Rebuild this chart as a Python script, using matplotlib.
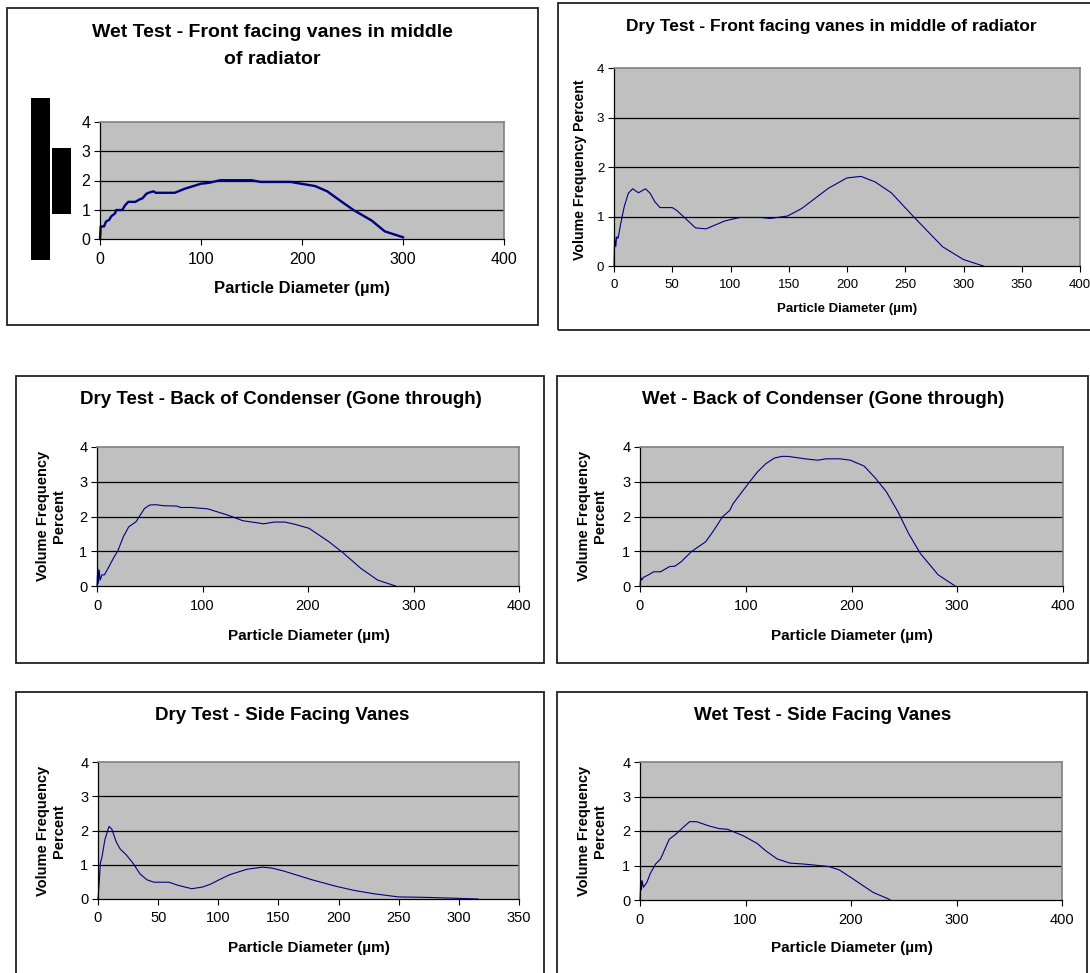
import matplotlib
matplotlib.use('Agg')
import matplotlib.pyplot as plt
from matplotlib.patches import Rectangle

W, H = 1090, 973

# values: particle diameter (um) vs volume frequency (%)
wet_front_x = [0, 0.7, 4, 6, 9, 11, 15, 16, 22, 25, 28, 35, 39, 42, 46, 49, 53, 55, 74, 84,
               100, 108, 119, 150, 159, 189, 199, 213, 225, 237, 251, 269, 282, 300]
wet_front_y = [0, 0.43, 0.43, 0.6, 0.65, 0.77, 0.88, 0.99, 0.99, 1.16, 1.27, 1.27, 1.35, 1.39,
               1.55, 1.59, 1.63, 1.58, 1.58, 1.72, 1.89, 1.92, 2.01, 2.01, 1.95, 1.95, 1.89,
               1.81, 1.63, 1.33, 0.99, 0.63, 0.26, 0.06]

dry_front_x = [0, 0.5, 1.5, 2.3, 3.5, 5.8, 8.8, 12.3, 16, 21, 27, 31, 35, 39.5, 50, 54, 70, 79,
               95, 108, 126, 134, 149, 161, 184, 200, 212, 224, 238, 257, 282, 300, 317]
dry_front_y = [0, 0.6, 0.39, 0.59, 0.56, 0.86, 1.2, 1.47, 1.56, 1.48, 1.56, 1.47, 1.3, 1.18,
               1.18, 1.12, 0.77, 0.75, 0.91, 0.98, 0.98, 0.96, 1.01, 1.16, 1.57, 1.78, 1.81,
               1.7, 1.48, 1.0, 0.39, 0.13, 0.0]

dry_back_x = [0, 0.7, 1.3, 2, 3, 4.6, 7, 10.5, 15.4, 20, 25, 30, 37, 45, 50, 56, 63, 76, 79, 89,
              105, 125, 138, 158, 168, 178, 187, 201, 220, 233, 250, 266, 283]
dry_back_y = [0, 0.51, 0.08, 0.46, 0.17, 0.32, 0.32, 0.51, 0.79, 1.03, 1.42, 1.7, 1.85, 2.23,
              2.33, 2.34, 2.31, 2.3, 2.26, 2.26, 2.22, 2.03, 1.88, 1.79, 1.84, 1.84, 1.78,
              1.66, 1.27, 0.96, 0.51, 0.17, 0.0]

wet_back_x = [0, 0.7, 1.6, 3.3, 8, 13, 19.5, 28, 33, 39, 49, 62, 70, 78, 85, 88, 94, 103, 111,
              119, 127, 134, 140, 156, 168, 176, 189, 199, 212, 223, 233, 244, 254, 265, 282, 298]
wet_back_y = [0, 0.25, 0.17, 0.25, 0.32, 0.41, 0.41, 0.56, 0.57, 0.7, 1.0, 1.27, 1.61, 1.99,
              2.18, 2.37, 2.61, 2.97, 3.28, 3.52, 3.68, 3.73, 3.73, 3.66, 3.62, 3.66, 3.66,
              3.62, 3.45, 3.09, 2.71, 2.13, 1.51, 0.94, 0.32, 0.0]

dry_side_x = [0, 1.1, 2, 3.4, 5.7, 9.2, 11.5, 15, 18.4, 23.5, 29, 35, 40.7, 46.5, 59, 66.5, 78,
              87, 94, 99.5, 109.5, 124, 137, 145, 155, 178, 198, 213, 230, 250, 270, 299, 316]
dry_side_y = [0, 0.56, 1.05, 1.24, 1.73, 2.12, 2.04, 1.68, 1.46, 1.29, 1.05, 0.73, 0.56, 0.49,
              0.49, 0.4, 0.3, 0.35, 0.44, 0.54, 0.71, 0.87, 0.93, 0.9, 0.81, 0.56, 0.37, 0.25,
              0.15, 0.06, 0.05, 0.02, 0.0]

wet_side_x = [0, 0.7, 1.3, 2, 3.3, 6.5, 9.8, 14.7, 19.5, 27.7, 34, 40.7, 47, 53.7, 65, 75, 83,
              98, 111, 119, 130, 142, 156, 179, 189, 202, 221, 237]
wet_side_y = [0, 0.56, 0.29, 0.56, 0.37, 0.51, 0.77, 1.04, 1.19, 1.76, 1.91, 2.1, 2.27, 2.27,
              2.15, 2.07, 2.05, 1.86, 1.64, 1.43, 1.19, 1.07, 1.04, 0.97, 0.87, 0.61, 0.22, 0.01]

plt.rcParams['font.family'] = ['Liberation Sans', 'DejaVu Sans']

fig = plt.figure(figsize=(W / 100, H / 100), dpi=100)


def box(x0, y0, x1, y1, **kw):
    fig.add_artist(Rectangle((x0 / W, 1 - y1 / H), (x1 - x0) / W, (y1 - y0) / H,
                             transform=fig.transFigure, **kw))


def label(x, y, s, **kw):
    fig.text(x / W, 1 - y / H, s, ha='center', va='center', **kw)


def panel(rect, xs, ys, xmax, xstep, lw, tick_fs):
    x0, y0, x1, y1 = rect
    ax = fig.add_axes([x0 / W, 1 - y1 / H, (x1 - x0) / W, (y1 - y0) / H])
    ax.set_facecolor('#c0c0c0')
    for v in (1, 2, 3):
        ax.axhline(v, color='black', lw=0.9, zorder=1)
    ax.plot(xs, ys, color='#000080', lw=lw, zorder=2, clip_on=False)
    ax.set_xlim(0, xmax)
    ax.set_ylim(0, 4)
    ax.set_xticks(range(0, xmax + 1, xstep))
    ax.set_yticks(range(5))
    ax.tick_params(direction='out', length=4, width=0.8, labelsize=tick_fs, colors='black')
    ax.tick_params(axis='x', pad=5)
    ax.tick_params(axis='y', pad=3)
    for s in ('left', 'bottom'):
        ax.spines[s].set_color('black')
        ax.spines[s].set_linewidth(0.9)
    for s in ('top', 'right'):
        ax.spines[s].set_color('#808080')
        ax.spines[s].set_linewidth(1.2)
    return ax


# panel frames
frame = dict(fill=False, edgecolor='#222222', lw=1.3)
box(7, 8, 538, 325, **frame)
box(558, 3, 1095, 330, **frame)
box(16, 376, 544, 663, **frame)
box(557, 376, 1088, 663, **frame)
box(16, 692, 544, 980, **frame)
box(557, 692, 1087, 980, **frame)

xl = 'Particle Diameter (µm)'
yl2 = 'Volume Frequency\nPercent'

# top left
panel((100, 122, 504, 239), wet_front_x, wet_front_y, 400, 100, 1.7, 11.5)
label(272, 46, 'Wet Test - Front facing vanes in middle\nof radiator',
      fontsize=14, fontweight='bold', linespacing=1.75)
label(302, 289, xl, fontsize=12, fontweight='bold')
box(31, 98, 50, 260, color='black', lw=0)
box(52, 148, 71, 214, color='black', lw=0)

# top right
panel((614, 68, 1080, 266), dry_front_x, dry_front_y, 400, 50, 0.8, 9.5)
label(831, 26, 'Dry Test - Front facing vanes in middle of radiator',
      fontsize=12.5, fontweight='bold')
label(847, 309, xl, fontsize=9.5, fontweight='bold')
label(580, 170, 'Volume Frequency Percent', fontsize=10.2, fontweight='bold', rotation=90)

# middle left
panel((97, 447, 519, 586), dry_back_x, dry_back_y, 400, 100, 0.8, 10.5)
label(281, 400, 'Dry Test - Back of Condenser (Gone through)', fontsize=13.5, fontweight='bold')
label(309, 636, xl, fontsize=11, fontweight='bold')
label(51, 516, yl2, fontsize=10.5, fontweight='bold', rotation=90, linespacing=1.1)

# middle right
panel((640, 447, 1063, 586), wet_back_x, wet_back_y, 400, 100, 0.8, 10.5)
label(823, 400, 'Wet - Back of Condenser (Gone through)', fontsize=13.5, fontweight='bold')
label(852, 636, xl, fontsize=11, fontweight='bold')
label(592, 516, yl2, fontsize=10.5, fontweight='bold', rotation=90, linespacing=1.1)

# bottom left
panel((98, 762, 519, 899), dry_side_x, dry_side_y, 350, 50, 0.8, 10.5)
label(282, 715, 'Dry Test - Side Facing Vanes', fontsize=13.5, fontweight='bold')
label(309, 948, xl, fontsize=11, fontweight='bold')
label(51, 831, yl2, fontsize=10.5, fontweight='bold', rotation=90, linespacing=1.1)

# bottom right
panel((640, 762, 1062, 900), wet_side_x, wet_side_y, 400, 100, 0.8, 10.5)
label(823, 715, 'Wet Test - Side Facing Vanes', fontsize=13.5, fontweight='bold')
label(852, 948, xl, fontsize=11, fontweight='bold')
label(592, 831, yl2, fontsize=10.5, fontweight='bold', rotation=90, linespacing=1.1)

fig.savefig('out.png', dpi=100)
